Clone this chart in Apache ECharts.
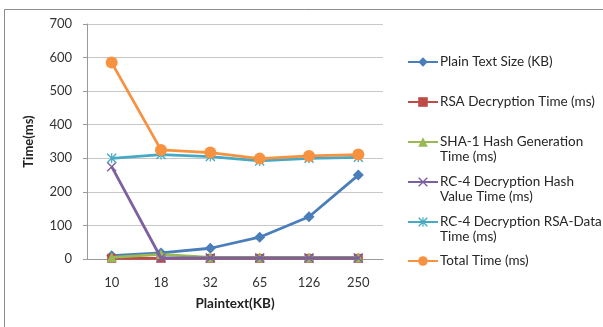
<!DOCTYPE html>
<html>
<head>
<meta charset="utf-8">
<script src="https://cdn.jsdelivr.net/npm/echarts@6/dist/echarts.min.js"></script>
<style>
  html, body { margin: 0; padding: 0; background: #fff; }
  #chart { width: 603px; height: 327px; }
</style>
</head>
<body>
<div id="chart"></div>
<script>
// Plaintext sizes (KB) on the category axis
const categories = ['10', '18', '32', '65', '126', '250'];

// Measured values per plaintext size
const plainTextSize = [10, 18, 32, 65, 126, 250];
const rsaDecryption = [2, 2, 2, 2, 2, 2];
const sha1Hash = [5, 14, 5, 5, 5, 5];
const rc4HashValue = [275, 3, 3, 3, 3, 3];
const rc4RsaData = [300, 311, 305, 292, 300, 303];
const totalTime = [585, 325, 317, 299, 307, 311];

// Y axis tick values
const yTicks = [0, 100, 200, 300, 400, 500, 600, 700];

// Series names; the legend wraps the longer ones onto a second line
const seriesNames = [
  'Plain Text Size (KB)',
  'RSA Decryption Time (ms)',
  'SHA-1 Hash Generation Time (ms)',
  'RC-4 Decryption Hash Value Time (ms)',
  'RC-4 Decryption RSA-Data Time (ms)',
  'Total Time (ms)'
];
const legendLines = [
  ['Plain Text Size (KB)'],
  ['RSA Decryption Time (ms)'],
  ['SHA-1 Hash Generation', 'Time (ms)'],
  ['RC-4 Decryption Hash', 'Value Time (ms)'],
  ['RC-4 Decryption RSA-Data', 'Time (ms)'],
  ['Total Time (ms)']
];

// thin diagonal cross and asterisk marker shapes
const crossPath = 'path://M0,1 L1,0 L5,4 L9,0 L10,1 L6,5 L10,9 L9,10 L5,6 L1,10 L0,9 L4,5 Z';
const starPath = 'path://M0,1 L1,0 L5,4 L9,0 L10,1 L6,5 L10,9 L9,10 L5,6 L1,10 L0,9 L4,5 Z M4.4,0 L5.6,0 L5.6,10 L4.4,10 Z';

const styles = [
  { data: plainTextSize, color: '#4A7EBB', symbol: 'diamond', size: 11 },
  { data: rsaDecryption, color: '#BE4B48', symbol: 'rect', size: 9 },
  { data: sha1Hash, color: '#98B954', symbol: 'triangle', size: 10 },
  { data: rc4HashValue, color: '#7D60A0', symbol: crossPath, size: 10 },
  { data: rc4RsaData, color: '#46AAC5', symbol: starPath, size: 10 },
  { data: totalTime, color: '#F69240', symbol: 'circle', size: 12 }
];

const font = 'Lato, "Open Sans", sans-serif';
const legendFontSize = 13.5;

const series = styles.map((s, i) => ({
  name: seriesNames[i],
  type: 'line',
  data: s.data,
  symbol: s.symbol,
  symbolSize: s.size,
  showAllSymbol: true,
  lineStyle: { color: s.color, width: 2.8 },
  itemStyle: { color: s.color },
  z: 2 + i
}));

// legend rows: centre of each entry's first line
const legendRowY = [62, 102, 142, 182, 222, 261];
const legendLeft = 407;
const legendTextX = 440;
const rowHeight = 15;

const legends = seriesNames.map((name, i) => ({
  data: [name],
  left: legendLeft,
  top: legendRowY[i] - rowHeight / 2,
  padding: 0,
  itemWidth: 30,
  itemHeight: 12,
  selectedMode: false,
  formatter: () => legendLines[i][0],
  textStyle: {
    fontFamily: font,
    fontSize: legendFontSize,
    color: '#262626',
    lineHeight: rowHeight,
    padding: [0, 0, 0, -3]
  }
}));

// second lines of the wrapped legend entries
const legendSecondLines = [];
legendLines.forEach((lines, i) => {
  if (lines.length > 1) {
    legendSecondLines.push({
      type: 'text',
      left: legendTextX,
      top: legendRowY[i] + rowHeight - rowHeight / 2,
      silent: true,
      style: {
        text: lines[1],
        fontFamily: font,
        fontSize: legendFontSize,
        fill: '#262626',
        lineHeight: rowHeight
      }
    });
  }
});

const chart = echarts.init(document.getElementById('chart'));
chart.setOption({
  animation: false,
  backgroundColor: '#fff',
  graphic: [{
    type: 'rect',
    shape: { x: 4.5, y: 9.5, width: 620, height: 340 },
    style: { fill: 'none', stroke: '#8c8c8c', lineWidth: 1 },
    silent: true
  }].concat(legendSecondLines),
  grid: { left: 87, top: 24, width: 296, height: 235 },
  legend: legends,
  xAxis: {
    type: 'category',
    data: categories,
    boundaryGap: true,
    name: 'Plaintext(KB)',
    nameLocation: 'middle',
    nameGap: 38,
    nameTextStyle: { fontFamily: font, fontSize: 13.5, fontWeight: 'bold', color: '#222' },
    axisLine: { lineStyle: { color: '#9a9a9a', width: 1 } },
    axisTick: { show: false },
    axisLabel: { fontFamily: font, fontSize: 13, color: '#333', margin: 17 }
  },
  yAxis: {
    type: 'value',
    min: yTicks[0],
    max: yTicks[yTicks.length - 1],
    interval: 100,
    name: 'Time(ms)',
    nameLocation: 'middle',
    nameGap: 52,
    nameRotate: 90,
    nameTextStyle: { fontFamily: font, fontSize: 13, fontWeight: 'bold', color: '#222' },
    axisLine: { show: true, lineStyle: { color: '#9a9a9a', width: 1 } },
    axisTick: { show: true, inside: false, length: 4, lineStyle: { color: '#9a9a9a' } },
    splitLine: { lineStyle: { color: '#c8c8c8', width: 1 } },
    axisLabel: { fontFamily: font, fontSize: 13, color: '#333', margin: 15 }
  },
  series: series
});
</script>
</body>
</html>
